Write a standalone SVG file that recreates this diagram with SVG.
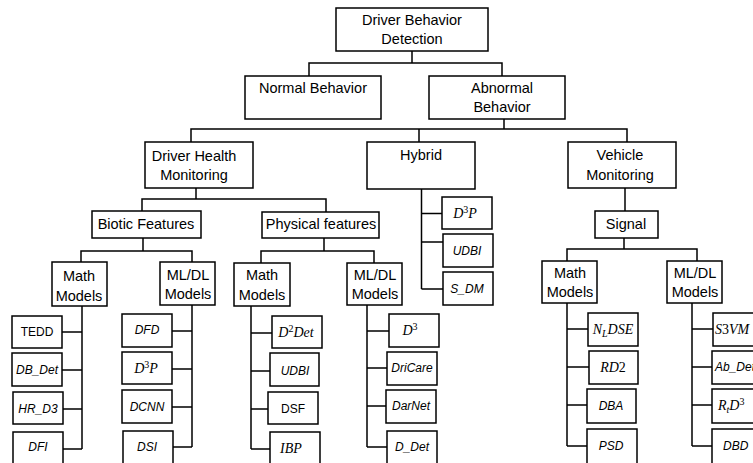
<svg xmlns="http://www.w3.org/2000/svg" width="753" height="463" viewBox="0 0 753 463">
  <style>
    .b { fill: #fff; stroke: #000; stroke-width: 1.5; }
    .c path { fill: none; stroke: #000; stroke-width: 1.5; }
    text { font-family: "Liberation Sans", Arial, sans-serif; fill: #000; text-anchor: middle; }
    .t { font-size: 14.5px; }
    .s { font-size: 12px; font-style: italic; }
    .u { font-size: 12px; }
    .m { font-family: "Liberation Serif", "Times New Roman", serif; font-size: 14px; font-style: italic; }
    .m .n { font-style: normal; }
    .sp { font-size: 10px; }
    .l { text-anchor: start; }
  </style>
  <rect width="753" height="463" fill="#fff"/>

  <!-- connectors -->
  <g id="connectors" class="c">
    <path d="M412 51 V63 M309 76 V63 H502 V76"/>
    <path d="M504 119 V129 M191 142 V129 H627 V142 M419 129 V142"/>
    <path d="M196 188 V199 M142 211 V199 H326 V212"/>
    <path d="M421.5 189 V289 M421.5 213.5 H442 M421.5 242 H443 M421.5 289 H443"/>
    <path d="M625 188 V211"/>
    <path d="M143 238 V251 M81 262 V251 H192 V262"/>
    <path d="M324 238 V251 M261 263 V251 H374 V263"/>
    <path d="M624 238 V249 M567 261 V249 H697 V261"/>
    <path d="M82 306 V449 M62 332 H82 M62 370 H82 M63 409 H82 M63 449 H82"/>
    <path d="M192 305 V447 M172 331 H192 M172 369 H192 M172 407 H192 M173 447 H192"/>
    <path d="M251 306 V449 M251 333 H272 M251 371 H270 M251 409 H268 M251 449 H270"/>
    <path d="M367 305 V447 M367 331 H389 M367 368 H387 M367 406 H386 M367 447 H387"/>
    <path d="M567 303 V446 M567 329 H588 M567 367 H589 M567 405 H587 M567 446 H587"/>
    <path d="M692 303 V446 M692 329 H713 M692 367 H712 M692 405 H712 M692 446 H712"/>
  </g>

  <!-- upper levels -->
  <g id="root"><rect class="b" x="336" y="8" width="152" height="43"/>
    <text class="t" x="412" y="25">Driver Behavior</text><text class="t" x="412" y="44">Detection</text></g>
  <g id="normal"><rect class="b" x="245" y="76" width="136" height="43"/>
    <text class="t" x="313" y="93">Normal Behavior</text></g>
  <g id="abnormal"><rect class="b" x="429" y="76" width="136" height="43"/>
    <text class="t" x="502" y="93">Abnormal</text><text class="t" x="502" y="112">Behavior</text></g>
  <g id="health"><rect class="b" x="145" y="142" width="108" height="46"/>
    <text class="t" x="194" y="161">Driver Health</text><text class="t" x="194" y="180">Monitoring</text></g>
  <g id="hybrid"><rect class="b" x="367" y="142" width="108" height="47"/>
    <text class="t" x="421" y="160">Hybrid</text></g>
  <g id="vehicle"><rect class="b" x="568" y="142" width="108" height="46"/>
    <text class="t" x="620" y="160">Vehicle</text><text class="t" x="620" y="180">Monitoring</text></g>
  <g id="biotic"><rect class="b" x="92" y="211" width="109" height="27"/>
    <text class="t" x="146" y="229">Biotic Features</text></g>
  <g id="physical"><rect class="b" x="262" y="212" width="117" height="26"/>
    <text class="t" x="321" y="229">Physical features</text></g>
  <g id="signal"><rect class="b" x="595" y="211" width="63" height="27"/>
    <text class="t" x="626" y="229">Signal</text></g>

  <!-- model groups -->
  <g id="bio-math"><rect class="b" x="52" y="262" width="55" height="44"/>
    <text class="t" x="79" y="281">Math</text><text class="t" x="79" y="301">Models</text></g>
  <g id="bio-ml"><rect class="b" x="160" y="262" width="55" height="43"/>
    <text class="t" x="188" y="280">ML/DL</text><text class="t" x="188" y="299">Models</text></g>
  <g id="phy-math"><rect class="b" x="234" y="263" width="56" height="43"/>
    <text class="t" x="262" y="280">Math</text><text class="t" x="262" y="300">Models</text></g>
  <g id="phy-ml"><rect class="b" x="347" y="263" width="55" height="42"/>
    <text class="t" x="375" y="280">ML/DL</text><text class="t" x="375" y="299">Models</text></g>
  <g id="veh-math"><rect class="b" x="542" y="261" width="55" height="42"/>
    <text class="t" x="570" y="278">Math</text><text class="t" x="570" y="297">Models</text></g>
  <g id="veh-ml"><rect class="b" x="667" y="261" width="55" height="42"/>
    <text class="t" x="695" y="278">ML/DL</text><text class="t" x="695" y="297">Models</text></g>

  <!-- hybrid methods -->
  <g id="hy-d3p"><rect class="b" x="442" y="197" width="50" height="32"/>
    <text class="m" x="465" y="218">D<tspan class="n sp" dy="-5">3</tspan><tspan dy="5">P</tspan></text></g>
  <g id="hy-udbi"><rect class="b" x="443" y="234" width="50" height="33"/>
    <text class="s" x="467" y="255">UDBI</text></g>
  <g id="hy-sdm"><rect class="b" x="443" y="272" width="50" height="33"/>
    <text class="s" x="467" y="293">S_DM</text></g>

  <!-- biotic math methods -->
  <g id="tedd"><rect class="b" x="12" y="316" width="50" height="32"/>
    <text class="u" x="37" y="336">TEDD</text></g>
  <g id="db-det"><rect class="b" x="12" y="353" width="50" height="33"/>
    <text class="s" x="37" y="374">DB_Det</text></g>
  <g id="hr-d3"><rect class="b" x="13" y="392" width="50" height="32"/>
    <text class="s" x="38" y="413">HR_D3</text></g>
  <g id="dfi"><rect class="b" x="13" y="432" width="50" height="33"/>
    <text class="s" x="38" y="451">DFI</text></g>

  <!-- biotic ML/DL methods -->
  <g id="dfd"><rect class="b" x="122" y="314" width="50" height="33"/>
    <text class="s" x="147" y="334">DFD</text></g>
  <g id="bio-d3p"><rect class="b" x="122" y="352" width="50" height="32"/>
    <text class="m" x="146" y="373">D<tspan class="n sp" dy="-5">3</tspan><tspan dy="5">P</tspan></text></g>
  <g id="dcnn"><rect class="b" x="122" y="390" width="50" height="33"/>
    <text class="s" x="147" y="411">DCNN</text></g>
  <g id="dsi"><rect class="b" x="123" y="431" width="50" height="33"/>
    <text class="s" x="147" y="451">DSI</text></g>

  <!-- physical math methods -->
  <g id="d2det"><rect class="b" x="272" y="316" width="50" height="32"/>
    <text class="m" x="296" y="337">D<tspan class="n sp" dy="-5">2</tspan><tspan dy="5">Det</tspan></text></g>
  <g id="phy-udbi"><rect class="b" x="270" y="353" width="49" height="33"/>
    <text class="s" x="295" y="375">UDBI</text></g>
  <g id="dsf"><rect class="b" x="268" y="392" width="50" height="32"/>
    <text class="u" x="293" y="413">DSF</text></g>
  <g id="ibp"><rect class="b" x="270" y="432" width="50" height="33"/>
    <text class="m" x="291" y="453">IBP</text></g>

  <!-- physical ML/DL methods -->
  <g id="d3"><rect class="b" x="389" y="314" width="50" height="33"/>
    <text class="m" x="410" y="335">D<tspan class="n sp" dy="-5">3</tspan></text></g>
  <g id="dricare"><rect class="b" x="387" y="352" width="50" height="33"/>
    <text class="s" x="412" y="372">DriCare</text></g>
  <g id="darnet"><rect class="b" x="386" y="390" width="50" height="33"/>
    <text class="s" x="411" y="410">DarNet</text></g>
  <g id="d-det"><rect class="b" x="387" y="431" width="50" height="33"/>
    <text class="s" x="412" y="451">D_Det</text></g>

  <!-- signal math methods -->
  <g id="nldse"><rect class="b" x="588" y="313" width="50" height="33"/>
    <text class="m" x="613" y="334">N<tspan class="sp" dy="3">L</tspan><tspan dy="-3">DSE</tspan></text></g>
  <g id="rd2"><rect class="b" x="589" y="351" width="49" height="33"/>
    <text class="m" x="613" y="372">RD<tspan class="n">2</tspan></text></g>
  <g id="dba"><rect class="b" x="587" y="389" width="49" height="34"/>
    <text class="s" x="611" y="410">DBA</text></g>
  <g id="psd"><rect class="b" x="587" y="429" width="50" height="35"/>
    <text class="s" x="611" y="450">PSD</text></g>

  <!-- signal ML/DL methods, running past the right edge -->
  <g id="s3vm"><rect class="b" x="713" y="313" width="50" height="33"/>
    <text class="m l" x="715" y="334">S<tspan class="n">3</tspan>VM</text></g>
  <g id="ab-det"><rect class="b" x="712" y="351" width="50" height="33"/>
    <text class="s l" x="715" y="371">Ab_Det</text></g>
  <g id="rtd3"><rect class="b" x="712" y="389" width="50" height="34"/>
    <text class="m l" x="718" y="410">R<tspan class="sp" dy="3">t</tspan><tspan dy="-3">D</tspan><tspan class="n sp" dy="-5">3</tspan></text></g>
  <g id="dbd"><rect class="b" x="712" y="429" width="50" height="35"/>
    <text class="s l" x="723" y="450">DBD</text></g>
</svg>
